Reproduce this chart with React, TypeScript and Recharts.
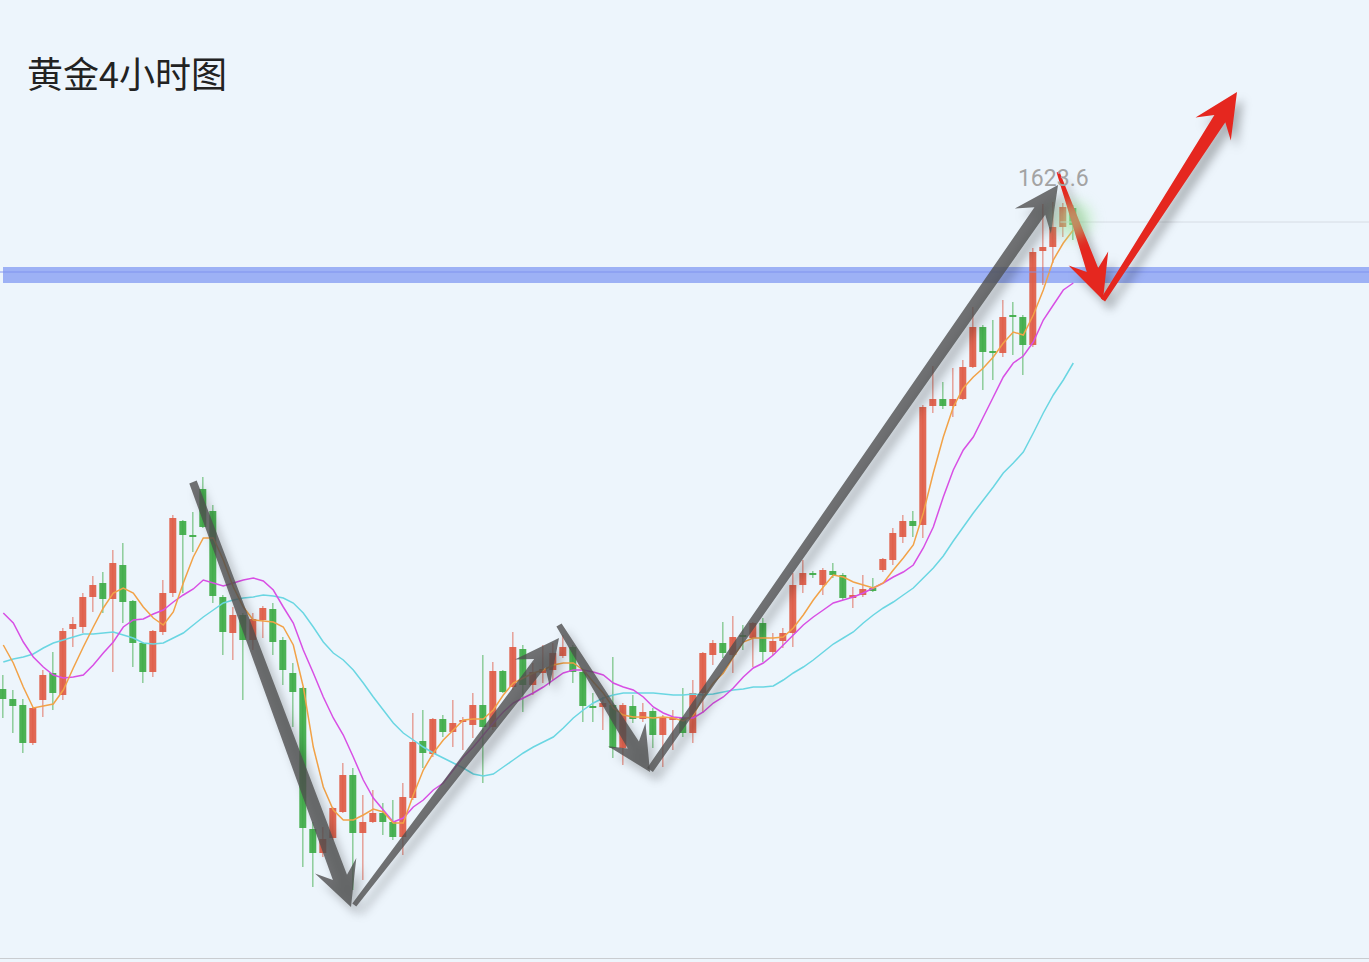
import React from 'react';
import { ComposedChart, Bar, Line, XAxis, YAxis, ReferenceLine, ReferenceArea, ReferenceDot } from 'recharts';

const W = 1369;
const H = 962;

// 4h gold candles
const opens = [
  1574.9, 1573.9, 1573.3, 1569.5, 1573.8, 1576.5, 1574.3, 1580.9, 1581.1, 1584.1,
  1585.5, 1583.9, 1587.3, 1583.7, 1579.5, 1576.6, 1580.6, 1584.5, 1591.7, 1590.3,
  1594.9, 1592.7, 1584.1, 1580.5, 1582.3, 1579.8, 1581.8, 1582.9, 1579.8, 1576.5,
  1575.0, 1560.9, 1558.5, 1560.0, 1562.6, 1566.3, 1560.5, 1561.6, 1562.5, 1561.6,
  1560.1, 1564.0, 1569.7, 1568.4, 1571.9, 1570.6, 1571.6, 1571.3, 1573.3, 1571.1,
  1576.7, 1575.1, 1578.9, 1575.3, 1576.5, 1576.8, 1578.2, 1579.1, 1576.6, 1573.2,
  1573.1, 1573.3, 1569.0, 1573.2, 1571.9, 1572.7, 1570.3, 1571.8, 1572.0, 1570.5,
  1574.5, 1578.3, 1579.5, 1578.3, 1580.3, 1580.0, 1581.5, 1578.6, 1579.7, 1580.5,
  1585.3, 1586.5, 1585.3, 1586.7, 1586.3, 1584.0, 1584.3, 1585.0, 1586.8, 1587.8,
  1590.1, 1591.7, 1591.3, 1603.2, 1603.9, 1603.2, 1603.9, 1607.1, 1611.1, 1608.7,
  1608.5, 1612.3, 1612.1, 1609.3, 1618.7, 1619.1, 1621.1, 1623.0,
];
const highs = [
  1576.3, 1574.8, 1573.9, 1573.1, 1576.8, 1578.6, 1581.0, 1582.1, 1584.5, 1586.2,
  1586.6, 1588.8, 1589.5, 1583.8, 1579.6, 1580.8, 1585.8, 1592.3, 1591.8, 1592.6,
  1596.1, 1593.3, 1584.3, 1583.1, 1582.5, 1582.5, 1583.2, 1583.5, 1580.1, 1577.5,
  1575.1, 1561.6, 1561.1, 1563.1, 1567.5, 1567.0, 1564.3, 1564.8, 1563.5, 1563.8,
  1565.5, 1572.5, 1572.8, 1572.0, 1572.3, 1573.8, 1572.1, 1574.5, 1578.3, 1577.6,
  1576.8, 1580.6, 1579.3, 1577.5, 1579.3, 1579.5, 1580.3, 1579.3, 1576.8, 1574.5,
  1574.1, 1578.1, 1573.5, 1574.3, 1573.5, 1573.0, 1572.3, 1572.8, 1575.0, 1575.8,
  1578.6, 1579.8, 1581.6, 1582.2, 1581.3, 1581.6, 1582.0, 1580.5, 1581.0, 1586.5,
  1587.8, 1586.7, 1587.0, 1587.5, 1586.5, 1585.1, 1586.3, 1586.0, 1588.0, 1591.0,
  1592.3, 1592.7, 1603.3, 1607.2, 1605.6, 1607.0, 1607.8, 1613.1, 1611.3, 1611.8,
  1613.8, 1613.6, 1612.3, 1619.0, 1623.4, 1623.6, 1623.5, 1623.3,
];
const lows = [
  1572.0, 1570.5, 1568.5, 1569.3, 1572.1, 1572.8, 1573.8, 1579.1, 1580.5, 1582.6,
  1582.5, 1576.6, 1581.5, 1577.1, 1575.5, 1576.1, 1580.3, 1584.1, 1584.5, 1588.6,
  1591.0, 1583.5, 1578.3, 1577.8, 1573.8, 1578.8, 1580.0, 1578.3, 1575.3, 1571.1,
  1557.1, 1555.1, 1558.1, 1559.8, 1562.5, 1554.8, 1555.8, 1561.5, 1560.3, 1559.8,
  1558.3, 1563.8, 1567.0, 1568.1, 1570.1, 1569.1, 1568.8, 1570.0, 1565.5, 1570.8,
  1574.5, 1574.8, 1572.6, 1574.3, 1575.5, 1575.8, 1578.0, 1575.5, 1571.6, 1571.6,
  1570.8, 1568.0, 1567.3, 1571.5, 1571.6, 1569.0, 1567.1, 1568.8, 1570.1, 1569.5,
  1572.5, 1577.3, 1578.0, 1576.5, 1578.8, 1577.1, 1577.6, 1578.3, 1579.0, 1579.1,
  1584.5, 1586.0, 1584.3, 1586.0, 1583.8, 1583.0, 1584.1, 1584.6, 1586.6, 1587.3,
  1589.5, 1590.1, 1590.0, 1602.5, 1602.9, 1602.1, 1603.8, 1607.0, 1604.8, 1605.8,
  1608.1, 1608.3, 1606.3, 1609.1, 1615.3, 1617.5, 1620.1, 1619.8,
];
const closes = [
  1573.9, 1573.2, 1569.5, 1573.0, 1576.3, 1574.5, 1580.7, 1581.4, 1584.1, 1585.3,
  1583.9, 1587.5, 1583.6, 1579.5, 1576.6, 1580.7, 1584.5, 1592.0, 1590.3, 1590.1,
  1591.1, 1584.2, 1580.6, 1582.3, 1579.8, 1581.9, 1583.0, 1579.6, 1576.8, 1574.6,
  1561.0, 1558.5, 1559.9, 1563.0, 1566.3, 1560.5, 1561.6, 1562.5, 1561.6, 1560.1,
  1564.1, 1569.6, 1568.5, 1571.9, 1570.6, 1571.5, 1571.8, 1573.3, 1571.1, 1576.7,
  1574.6, 1579.1, 1575.3, 1576.6, 1576.9, 1578.5, 1579.1, 1576.6, 1573.2, 1573.0,
  1573.5, 1569.0, 1573.3, 1571.9, 1572.6, 1570.3, 1572.1, 1572.1, 1570.5, 1574.5,
  1578.5, 1579.5, 1578.5, 1580.1, 1580.1, 1581.5, 1578.6, 1579.7, 1580.5, 1585.3,
  1586.5, 1586.3, 1586.8, 1586.3, 1584.0, 1584.3, 1584.9, 1584.7, 1587.9, 1590.5,
  1591.7, 1591.2, 1603.1, 1603.9, 1603.2, 1603.9, 1607.1, 1611.1, 1608.6, 1608.5,
  1612.1, 1612.1, 1609.3, 1618.6, 1619.1, 1621.1, 1623.1, 1621.3,
];

// moving averages as drawn on the picture
const ma5 = [
  1579.3, 1577.5, 1575.1, 1573.0, 1573.2, 1573.4, 1574.8, 1577.0, 1579.1, 1581.1,
  1583.0, 1584.5, 1585.0, 1584.5, 1583.1, 1582.0, 1581.3, 1582.6, 1585.5, 1588.1,
  1590.0, 1590.0, 1587.8, 1585.1, 1583.1, 1581.8, 1581.7, 1581.6, 1581.1, 1579.3,
  1575.1, 1569.1, 1565.1, 1562.8, 1561.8, 1561.8, 1562.3, 1562.9, 1562.6, 1561.5,
  1561.5, 1564.3, 1566.8, 1568.5, 1569.8, 1570.8, 1571.8, 1571.9, 1571.9, 1572.8,
  1574.3, 1575.5, 1576.0, 1576.5, 1576.8, 1577.3, 1577.5, 1577.5, 1576.8, 1575.6,
  1574.5, 1573.0, 1572.3, 1572.1, 1572.1, 1572.0, 1572.1, 1572.0, 1571.7, 1572.3,
  1574.1, 1575.5, 1576.5, 1578.1, 1579.6, 1580.0, 1580.0, 1580.0, 1580.1, 1581.0,
  1582.3, 1583.8, 1585.1, 1586.3, 1586.1, 1585.6, 1585.3, 1585.0, 1585.5, 1586.8,
  1588.0, 1589.3, 1592.5, 1596.5, 1600.1, 1603.1, 1605.0, 1606.1, 1607.0, 1608.1,
  1609.5, 1610.6, 1610.3, 1612.3, 1614.8, 1617.8, 1619.5, 1620.8,
];
const ma10 = [
  1582.5, 1581.5, 1579.6, 1578.1, 1577.1, 1576.3, 1576.0, 1576.1, 1576.3, 1577.3,
  1578.5, 1579.6, 1581.1, 1581.8, 1581.9, 1582.4, 1582.8, 1583.6, 1584.3, 1584.9,
  1585.8, 1585.5, 1585.2, 1585.5, 1585.8, 1586.0, 1585.7, 1584.8, 1583.1, 1581.5,
  1578.8, 1576.5, 1574.1, 1572.0, 1570.3, 1568.1, 1565.8, 1564.0, 1562.8, 1561.6,
  1562.0, 1563.1, 1563.8, 1564.8, 1565.5, 1566.8, 1568.1, 1569.1, 1570.3, 1571.5,
  1572.6, 1573.5, 1574.0, 1574.5, 1575.1, 1575.8, 1576.5, 1576.8, 1576.8, 1576.6,
  1576.3, 1575.5, 1575.1, 1574.8, 1574.1, 1573.1, 1572.5, 1572.1, 1572.0, 1572.0,
  1572.6, 1573.5, 1574.1, 1575.0, 1576.1, 1577.0, 1577.5, 1578.3, 1579.3, 1580.3,
  1581.3, 1582.1, 1582.8, 1583.5, 1583.8, 1584.1, 1584.5, 1585.0, 1585.5, 1586.1,
  1586.6, 1587.3, 1589.0, 1591.1, 1594.1, 1596.8, 1598.8, 1600.1, 1602.1, 1604.1,
  1606.1, 1607.5, 1608.2, 1609.6, 1611.8, 1613.3, 1614.8, 1615.5,
];
const ma20 = [
  1577.6, 1577.9, 1578.1, 1578.4, 1579.0, 1579.5, 1579.8, 1580.1, 1580.4, 1580.4,
  1580.5, 1580.6, 1580.3, 1580.0, 1579.5, 1579.4, 1579.5, 1580.0, 1580.5, 1581.3,
  1582.1, 1582.8, 1583.5, 1583.8, 1584.0, 1584.1, 1584.3, 1584.2, 1584.0, 1583.5,
  1582.5, 1581.1, 1579.6, 1578.5, 1577.8, 1576.8, 1575.5, 1574.1, 1572.8, 1571.5,
  1570.5, 1569.8, 1569.1, 1568.5, 1568.0, 1567.5, 1567.0, 1566.4, 1566.2, 1566.4,
  1567.1, 1567.8, 1568.5, 1569.1, 1569.6, 1570.1, 1571.0, 1572.0, 1572.8, 1573.5,
  1574.0, 1574.3, 1574.5, 1574.5, 1574.5, 1574.5, 1574.4, 1574.3, 1574.3, 1574.4,
  1574.3, 1574.4, 1574.6, 1574.8, 1574.9, 1575.1, 1575.1, 1575.2, 1575.8, 1576.5,
  1577.1, 1577.8, 1578.6, 1579.4, 1580.0, 1580.6, 1581.5, 1582.3, 1583.0, 1583.6,
  1584.3, 1585.0, 1586.0, 1587.0, 1588.2, 1589.7, 1591.1, 1592.5, 1593.8, 1595.1,
  1596.5, 1597.5, 1598.6, 1600.5, 1602.5, 1604.3, 1605.8, 1607.5,
];

// hand-drawn trend arrows (bar index, price), tail/neck widths in px
const grayArrows = [
  { x1: 18.97, y1: 1595.6, x2: 34.77, y2: 1553.1, tail: 8, neck: 15 },
  { x1: 35.1, y1: 1553.3, x2: 55.57, y2: 1580.0, tail: 5, neck: 14 },
  { x1: 55.57, y1: 1581.3, x2: 64.67, y2: 1566.6, tail: 6, neck: 13 },
  { x1: 64.67, y1: 1566.8, x2: 105.47, y2: 1625.3, tail: 7, neck: 13 },
];
const redArrows = [
  { x1: 105.47, y1: 1626.6, x2: 109.97, y2: 1613.8, tail: 3, neck: 12 },
  { x1: 109.97, y1: 1613.8, x2: 123.37, y2: 1634.6, tail: 5, neck: 13 },
];

const bandLow = 1615.5;
const bandHigh = 1617.1;
const lastPrice = 1621.6;
const peakLabel = '1623.6';

const data = opens.map((o, i) => ({
  t: i,
  open: o,
  high: highs[i],
  low: lows[i],
  close: closes[i],
  range: [lows[i], highs[i]],
  ma5: ma5[i],
  ma10: ma10[i],
  ma20: ma20[i],
}));

const Candle = (props: any) => {
  const { x, y, width, height, payload } = props;
  if (!payload || payload.high == null) return null;
  const { open, close, high, low } = payload;
  const top = Math.min(y, y + height);
  const h = Math.abs(height);
  const ratio = h / Math.max(high - low, 0.01);
  const py = (v: number) => top + (high - v) * ratio;
  const up = close >= open;
  const color = up ? '#e05b45' : '#3eab47';
  const cx = x + width / 2;
  const bTop = py(Math.max(open, close));
  const bH = Math.max(py(Math.min(open, close)) - bTop, 1.5);
  return (
    <g>
      <line x1={cx} x2={cx} y1={top} y2={top + h} stroke={color} strokeOpacity={0.55} strokeWidth={1.5} />
      <rect x={x} y={bTop} width={width} height={bH} fill={color} fillOpacity={0.92} />
    </g>
  );
};

// tapered brush-like arrow with swept-back barbs
const makeArrow = (color: string, tailW: number, neckW: number, headLen: number, headHalf: number, opacity: number) => (p: any) => {
  const { x1, y1, x2, y2 } = p;
  if (x1 == null || x2 == null) return null;
  const dx = x2 - x1;
  const dy = y2 - y1;
  const len = Math.hypot(dx, dy) || 1;
  const ux = dx / len;
  const uy = dy / len;
  const nx = -uy;
  const ny = ux;
  const back = (d: number, off: number) => [x2 - ux * d + nx * off, y2 - uy * d + ny * off];
  const pts = [
    [x1 + (nx * tailW) / 2, y1 + (ny * tailW) / 2],
    back(headLen * 0.72, neckW / 2),
    back(headLen, headHalf),
    [x2, y2],
    back(headLen, -headHalf),
    back(headLen * 0.72, -neckW / 2),
    [x1 - (nx * tailW) / 2, y1 - (ny * tailW) / 2],
  ]
    .map((q) => q.map((v) => v.toFixed(1)).join(','))
    .join(' ');
  return (
    <g style={{ filter: 'drop-shadow(6px 8px 5px rgba(0,0,0,0.28))' }}>
      <polygon points={pts} fill={color} fillOpacity={opacity} strokeLinejoin="round" />
    </g>
  );
};

const Glow = (p: any) => (
  <circle cx={p.cx} cy={p.cy} r={18} fill="#9fe69a" fillOpacity={0.55} style={{ filter: 'blur(7px)' }} />
);

export default function App() {
  return (
    <div
      style={{
        position: 'absolute',
        left: 0,
        top: 0,
        width: W,
        height: H,
        background: '#edf5fc',
        overflow: 'hidden',
        fontFamily: 'Roboto, "Noto Sans CJK SC", sans-serif',
      }}
    >
      <div
        style={{
          position: 'absolute',
          left: 27,
          top: 48,
          fontSize: 36,
          lineHeight: '48px',
          color: '#222',
          fontFamily: '"Noto Sans CJK SC", sans-serif',
          zIndex: 2,
        }}
      >
        黄金4小时图
      </div>
      <ComposedChart width={W} height={H} data={data} margin={{ top: 0, right: 0, bottom: 0, left: 0 }}>
        <XAxis dataKey="t" type="number" domain={[-0.33, 136.57]} allowDataOverflow hide />
        <YAxis type="number" domain={[1547.6, 1643.8]} allowDataOverflow hide />
        <Line dataKey="ma20" type="linear" stroke="#6ad6e2" strokeWidth={1.5} dot={false} activeDot={false} isAnimationActive={false} />
        <Line dataKey="ma10" type="linear" stroke="#d84fe4" strokeWidth={1.5} dot={false} activeDot={false} isAnimationActive={false} />
        <Line dataKey="ma5" type="linear" stroke="#f2a247" strokeWidth={1.5} dot={false} activeDot={false} isAnimationActive={false} />
        <Bar dataKey="range" barSize={7} shape={Candle} activeBar={false} isAnimationActive={false} />
        <ReferenceDot x={107} y={1621.8} r={18} shape={Glow} ifOverflow="visible" />
        <ReferenceLine
          segment={[{ x: 105.7, y: lastPrice }, { x: 136.57, y: lastPrice }]}
          stroke="#d6dce4"
          strokeWidth={1}
          ifOverflow="visible"
        />
        <ReferenceArea
          x1={-0.03}
          x2={136.57}
          y1={bandLow}
          y2={bandHigh}
          fill="#8ea4f3"
          fillOpacity={0.85}
          stroke="none"
          ifOverflow="visible"
        />
        <ReferenceLine y={1616.6} stroke="#7c90ee" strokeWidth={1.5} strokeOpacity={0.6} />
        <ReferenceDot
          x={105}
          y={1623.6}
          r={0}
          fill="none"
          stroke="none"
          ifOverflow="visible"
          label={{ value: peakLabel, position: 'top', offset: 16, fill: '#a3a3a3', fontSize: 23 }}
        />
        {grayArrows.map((a, i) => (
          <ReferenceLine
            key={`g${i}`}
            segment={[{ x: a.x1, y: a.y1 }, { x: a.x2, y: a.y2 }]}
            ifOverflow="visible"
            shape={makeArrow('#4f4f4f', a.tail, a.neck, 44, 22, 0.8)}
          />
        ))}
        {redArrows.map((a, i) => (
          <ReferenceLine
            key={`r${i}`}
            segment={[{ x: a.x1, y: a.y1 }, { x: a.x2, y: a.y2 }]}
            ifOverflow="visible"
            shape={makeArrow('#e5271f', a.tail, a.neck, 44, 21, 1)}
          />
        ))}
      </ComposedChart>
      <div style={{ position: 'absolute', left: 0, top: 958, width: W, height: 1, background: '#c9ccd0' }} />
    </div>
  );
}
